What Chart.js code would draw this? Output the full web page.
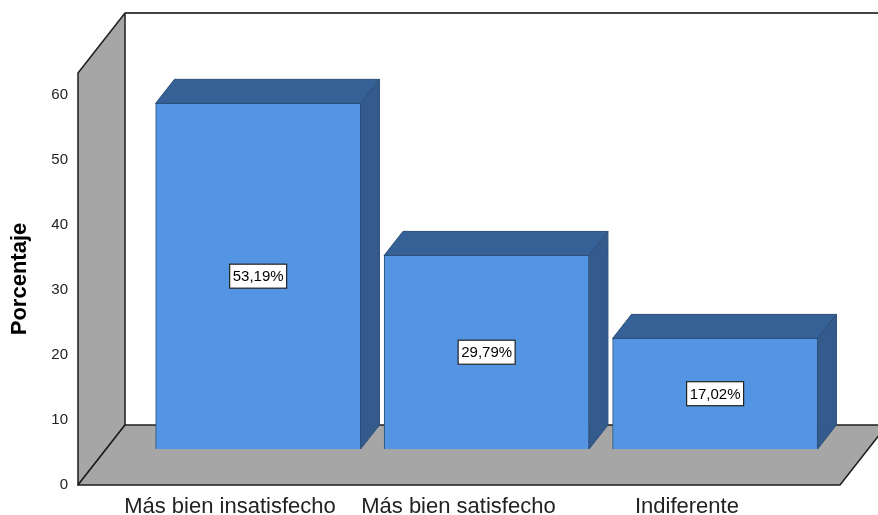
<!DOCTYPE html>
<html>
<head>
<meta charset="utf-8">
<script src="https://cdn.jsdelivr.net/npm/chart.js@4"></script>
<style>
  html, body { margin: 0; padding: 0; background: #fff; }
  #wrap { width: 878px; height: 515px; }
</style>
</head>
<body>
<div id="wrap"><canvas id="myChart"></canvas></div>
<script>
const categories = ['Más bien insatisfecho', 'Más bien satisfecho', 'Indiferente'];
const percentages = [53.19, 29.79, 17.02];
const valueLabels = ['53,19%', '29,79%', '17,02%'];
const yTicks = [0, 10, 20, 30, 40, 50, 60];

// depth of the "room" (back wall offset from the front plane)
const DX = 47, DY = -60;
const BAR_SHIFT = 0.6;   // bars stand against the back wall
const BAR_DEPTH = 0.4;

const room3d = {
    id: 'room3d',
    beforeDatasetsDraw(chart) {
        const { ctx, chartArea: a } = chart;
        ctx.save();
        ctx.lineWidth = 1.5;
        ctx.strokeStyle = '#1e1e1e';
        ctx.lineJoin = 'round';
        ctx.fillStyle = '#a6a6a6';

        // left wall
        ctx.beginPath();
        ctx.moveTo(a.left, a.top);
        ctx.lineTo(a.left + DX, a.top + DY);
        ctx.lineTo(a.left + DX, a.bottom + DY);
        ctx.lineTo(a.left, a.bottom);
        ctx.closePath();
        ctx.fill();
        ctx.stroke();

        // floor
        ctx.beginPath();
        ctx.moveTo(a.left, a.bottom);
        ctx.lineTo(a.left + DX, a.bottom + DY);
        ctx.lineTo(a.right + DX, a.bottom + DY);
        ctx.lineTo(a.right, a.bottom);
        ctx.closePath();
        ctx.fill();
        ctx.stroke();

        // back wall top edge
        ctx.strokeStyle = '#444';
        ctx.lineWidth = 2;
        ctx.beginPath();
        ctx.moveTo(a.left + DX, a.top + DY);
        ctx.lineTo(a.right + DX, a.top + DY);
        ctx.stroke();
        ctx.restore();
    }
};

const bars3d = {
    id: 'bars3d',
    beforeDatasetDraw(chart) {
        chart.ctx.save();
        chart.ctx.translate(DX * BAR_SHIFT, DY * BAR_SHIFT);
    },
    afterDatasetDraw(chart, args) {
        const ctx = chart.ctx;
        const dx = DX * BAR_DEPTH, dy = DY * BAR_DEPTH;
        ctx.lineWidth = 1;
        ctx.strokeStyle = '#2c4f7a';
        args.meta.data.forEach(function (bar) {
            const p = bar.getProps(['x', 'y', 'base', 'width'], true);
            const l = p.x - p.width / 2, r = p.x + p.width / 2;
            // top face
            ctx.fillStyle = '#366196';
            ctx.beginPath();
            ctx.moveTo(l, p.y);
            ctx.lineTo(l + dx, p.y + dy);
            ctx.lineTo(r + dx, p.y + dy);
            ctx.lineTo(r, p.y);
            ctx.closePath();
            ctx.fill();
            ctx.stroke();
            // side face
            ctx.fillStyle = '#345b8c';
            ctx.beginPath();
            ctx.moveTo(r, p.y);
            ctx.lineTo(r + dx, p.y + dy);
            ctx.lineTo(r + dx, p.base + dy);
            ctx.lineTo(r, p.base);
            ctx.closePath();
            ctx.fill();
            ctx.stroke();
        });
        ctx.restore();
    },
    afterDatasetsDraw(chart) {
        const ctx = chart.ctx;
        const meta = chart.getDatasetMeta(0);
        ctx.save();
        ctx.translate(DX * BAR_SHIFT, DY * BAR_SHIFT);
        // narrow face if it's there, plain Liberation Sans otherwise
        ctx.font = "18px 'Liberation Sans Narrow'";
        if (ctx.measureText(valueLabels[0]).width > 54) {
            ctx.font = "15px 'Liberation Sans', Arial, sans-serif";
        }
        ctx.textAlign = 'center';
        ctx.textBaseline = 'middle';
        meta.data.forEach(function (bar, i) {
            const p = bar.getProps(['x', 'y', 'base'], true);
            const cy = (p.y + p.base) / 2;
            const w = 57, h = 24;
            ctx.fillStyle = '#fff';
            ctx.fillRect(p.x - w / 2, cy - h / 2, w, h);
            ctx.strokeStyle = '#222';
            ctx.lineWidth = 1.2;
            ctx.strokeRect(p.x - w / 2, cy - h / 2, w, h);
            ctx.fillStyle = '#000';
            ctx.fillText(valueLabels[i], p.x, cy + 1);
        });
        ctx.restore();
    }
};

Chart.defaults.font.family = "'Liberation Sans', Arial, sans-serif";
Chart.defaults.color = '#000';

new Chart(document.getElementById('myChart'), {
    type: 'bar',
    data: {
        datasets: [{
            data: percentages.map(function (v, i) { return { x: i, y: v }; }),
            backgroundColor: '#5495e3',
            borderColor: '#2c4f7a',
            borderWidth: 1,
            barThickness: 205,
            clip: false
        }]
    },
    options: {
        responsive: true,
        maintainAspectRatio: false,
        animation: false,
        layout: { padding: { top: 73, right: 38, left: 0, bottom: 0 } },
        plugins: {
            legend: { display: false },
            tooltip: { enabled: false }
        },
        scales: {
            x: {
                type: 'linear',
                offset: false,
                min: -0.665,
                max: 2.67,
                grid: { display: false, drawTicks: false },
                border: { display: false },
                afterBuildTicks: function (s) {
                    s.ticks = categories.map(function (c, i) { return { value: i }; });
                },
                afterFit: function (s) { s.height = 30; },
                ticks: {
                    padding: 9,
                    maxRotation: 0,
                    autoSkip: false,
                    color: '#222',
                    font: { size: 22 },
                    callback: function (v) { return categories[v]; }
                }
            },
            y: {
                min: 0,
                max: 63.4,
                grid: { display: false, drawTicks: false },
                border: { display: false },
                afterBuildTicks: function (s) {
                    s.ticks = yTicks.map(function (v) { return { value: v }; });
                },
                afterFit: function (s) { s.width = 78; },
                ticks: { padding: 10, color: '#222', font: { size: 15 } },
                title: {
                    display: true,
                    text: 'Porcentaje',
                    font: { size: 22, weight: 'bold' },
                    padding: { top: 7, bottom: 0 }
                }
            }
        }
    },
    plugins: [room3d, bars3d]
});
</script>
</body>
</html>
